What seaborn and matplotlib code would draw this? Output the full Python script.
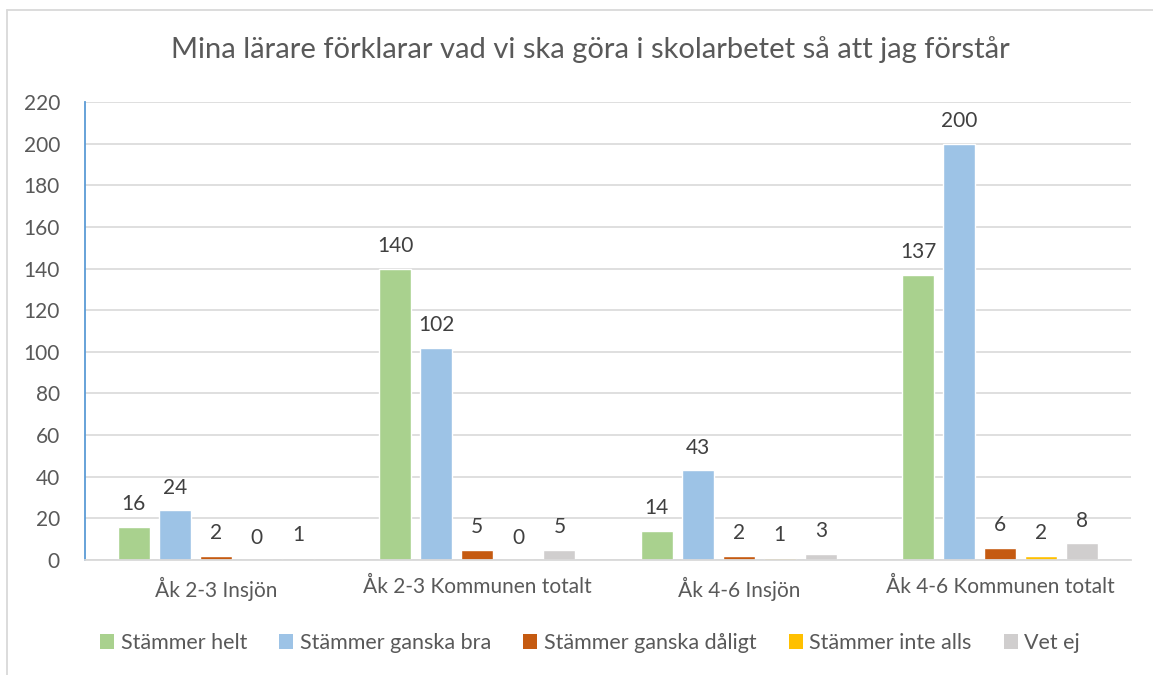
import pandas as pd
import matplotlib.pyplot as plt
from matplotlib.lines import Line2D
from matplotlib.patches import Patch
import seaborn as sns

# data
groups = ['Åk 2-3 Insjön', 'Åk 2-3 Kommunen totalt', 'Åk 4-6 Insjön', 'Åk 4-6 Kommunen totalt']
answers = ['Stämmer helt', 'Stämmer ganska bra', 'Stämmer ganska dåligt', 'Stämmer inte alls', 'Vet ej']
helt = [16, 140, 14, 137]
ganska_bra = [24, 102, 43, 200]
ganska_daligt = [2, 5, 2, 6]
inte_alls = [0, 0, 1, 2]
vet_ej = [1, 5, 3, 8]
colors = ['#A9D18E', '#9DC3E6', '#C55A11', '#FFC000', '#D0CECE']

rows = []
for ans, vals in zip(answers, [helt, ganska_bra, ganska_daligt, inte_alls, vet_ej]):
    for g, v in zip(groups, vals):
        rows.append({'Grupp': g, 'Svar': ans, 'Antal': v})
df = pd.DataFrame(rows)

sns.set_style('white')
plt.rcParams['font.family'] = ['Lato', 'DejaVu Sans']
text_col = '#595959'

W, H = 1153, 675
fig = plt.figure(figsize=(W / 100, H / 100), dpi=100)
ax = fig.add_axes([85 / W, 1 - 560 / H, (1131 - 85) / W, (560 - 102) / H])

sns.barplot(data=df, x='Grupp', y='Antal', hue='Svar', hue_order=answers,
            order=groups, palette=colors, width=0.785, gap=0.22, ax=ax,
            legend=False, saturation=1)

for cont in ax.containers:
    ax.bar_label(cont, padding=9, fontsize=15, color='#404040')

ax.set_ylim(0, 220)
ax.set_yticks(range(0, 221, 20))
ax.set_xlim(-0.5, 3.5)
ax.set_xlabel('')
ax.set_ylabel('')
ax.yaxis.grid(True, color='#D9D9D9', lw=1.2)
ax.set_axisbelow(True)
for s in ['top', 'right']:
    ax.spines[s].set_visible(False)
ax.spines['left'].set_color('#5B9BD5')
ax.spines['left'].set_linewidth(1.3)
ax.spines['bottom'].set_color('#D9D9D9')
ax.spines['bottom'].set_linewidth(1.3)
ax.tick_params(axis='both', length=0, labelsize=15, colors=text_col)
ax.tick_params(axis='y', pad=18)
ax.tick_params(axis='x', pad=12)

fig.text(590 / W, 1 - 50 / H, 'Mina lärare förklarar vad vi ska göra i skolarbetet så att jag förstår',
         ha='center', va='center', fontsize=21, color=text_col)

handles = [Patch(facecolor=c, edgecolor='none') for c in colors]
fig.legend(handles, answers, loc='center', bbox_to_anchor=(590 / W, 1 - 643 / H),
           ncol=5, frameon=False, fontsize=15.5, labelcolor=text_col,
           handlelength=0.65, handleheight=0.65, handletextpad=0.3, columnspacing=1.5)

# outer chart border
fig.add_artist(Line2D([7 / W, 1], [1 - 10 / H, 1 - 10 / H], color='#D9D9D9', lw=1.3))
fig.add_artist(Line2D([7 / W, 7 / W], [0, 1 - 10 / H], color='#D9D9D9', lw=1.3))

fig.savefig('out.png', dpi=100)
